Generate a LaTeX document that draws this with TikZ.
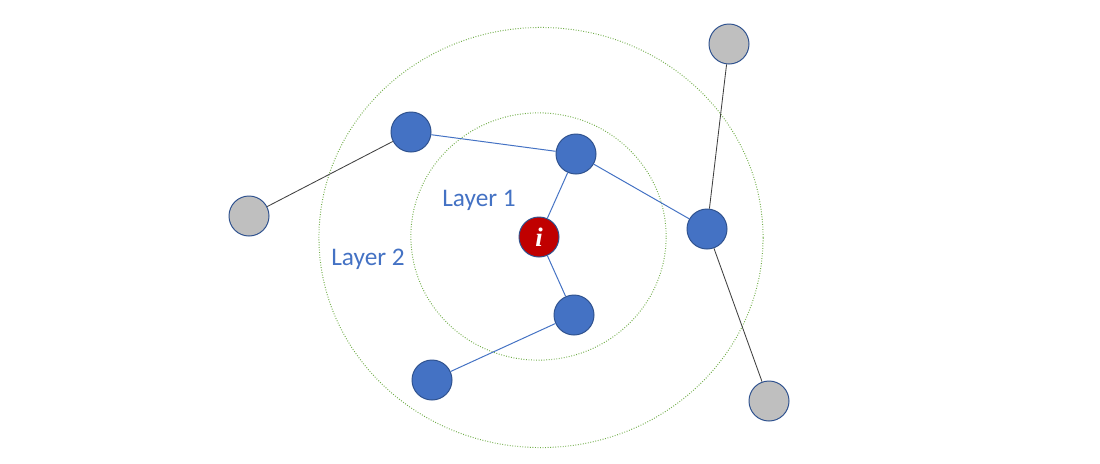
\documentclass[tikz,border=0pt]{standalone}
\usepackage{fontspec}
\setmainfont{Carlito}
\newfontfamily\ifont{Liberation Serif}
\definecolor{nodeblue}{HTML}{4472C4}
\definecolor{rimblue}{HTML}{2F528F}
\definecolor{nodegray}{HTML}{BFBFBF}
\definecolor{nodered}{HTML}{C00000}
\definecolor{ringgreen}{HTML}{70AD47}
\definecolor{edgedark}{HTML}{404040}
\begin{document}
\begin{tikzpicture}[x=0.025cm,y=-0.025cm,
  vert/.style={circle,draw=rimblue,line width=0.7pt,minimum size=1cm,inner sep=0pt},
  bluev/.style={vert,fill=nodeblue},
  grayv/.style={vert,fill=nodegray},
  redv/.style={vert,fill=nodered,text=white,font=\ifont\bfseries\itshape\fontsize{19}{19}\selectfont},
  ring/.style={draw=ringgreen,line width=0.7pt,dash pattern=on 0.6pt off 1.2pt},
  bedge/.style={draw=nodeblue,line width=0.7pt},
  gedge/.style={draw=edgedark,line width=0.6pt},
  lab/.style={text=nodeblue,font=\fontsize{18}{21}\selectfont,inner sep=0pt}]
\useasboundingbox (0,0) rectangle (1100,463);
\fill[white] (0,0) rectangle (1100,463);
\draw[ring] (541,237.5) ellipse [x radius=5.55cm, y radius=5.25cm];
\draw[ring] (538.5,236.5) ellipse [x radius=3.19cm, y radius=3.09cm];
\node[redv] (i) at (539,237) {i};
\node[bluev] (tr) at (576,154) {};
\node[bluev] (tl) at (411,132) {};
\node[bluev] (r) at (707,229) {};
\node[bluev] (b) at (574,315) {};
\node[bluev] (bl) at (432,380) {};
\node[grayv] (gl) at (249,216) {};
\node[grayv] (gt) at (729,44) {};
\node[grayv] (gb) at (769,401) {};
\draw[bedge] (i) -- (tr);
\draw[bedge] (i) -- (b);
\draw[bedge] (tr) -- (tl);
\draw[bedge] (tr) -- (r);
\draw[bedge] (b) -- (bl);
\draw[gedge] (tl) -- (gl);
\draw[gedge] (r) -- (gt);
\draw[gedge] (r) -- (gb);
\node[lab] (l1) at (479,200) {Layer 1};
\node[lab] (l2) at (368,259) {Layer 2};
\end{tikzpicture}
\end{document}
